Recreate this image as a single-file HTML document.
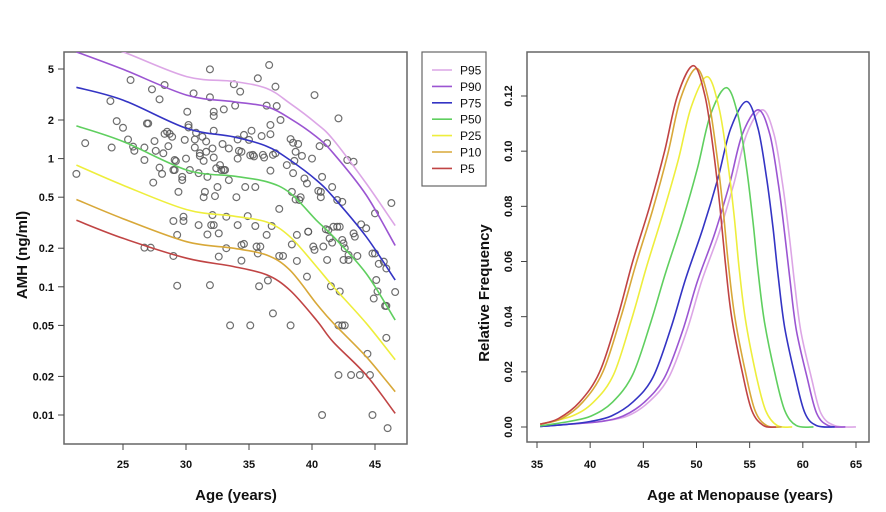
<!DOCTYPE html>
<html><head><meta charset="utf-8">
<style>
html,body{margin:0;padding:0;background:#fff;}
svg{display:block;font-family:"Liberation Sans",Arial,sans-serif;}
.tk{font-size:11px;font-weight:bold;fill:#111;}
.ttl{font-size:15px;font-weight:bold;fill:#111;}
</style></head>
<body>
<svg id="chart" width="886" height="512" viewBox="0 0 886 512">
<defs><clipPath id="clipL"><rect x="64" y="52" width="343" height="392"/></clipPath>
<clipPath id="clipR"><rect x="527" y="52" width="342" height="390"/></clipPath></defs>
<g id="left"></g>
<g id="right"></g>
</svg>
<script>
// ---------- Left panel data ----------
const pctNames = ["P95","P90","P75","P50","P25","P10","P5"];
const pctColors = ["#dca6e6","#9b55d2","#3434c4","#5fcf5f","#eeee3c","#d8a838","#c04444"];
const curveAges = [21.3,25,30.05,33.75,36.4,38.25,40.35,41.7,44.3,46.6];
const amhP95 = [9.0,6.8,4.36,4.0,3.53,2.70,1.88,1.40,0.64,0.30];
const amhP90 = [6.8,4.97,3.13,2.78,2.54,2.06,1.48,1.10,0.52,0.21];
const amhP75 = [3.6,2.86,1.72,1.48,1.25,0.975,0.68,0.50,0.246,0.113];
const amhP50 = [1.80,1.36,0.815,0.73,0.66,0.54,0.33,0.246,0.127,0.055];
const amhP25 = [0.89,0.62,0.40,0.356,0.32,0.246,0.144,0.10,0.052,0.027];
const amhP10 = [0.48,0.34,0.225,0.20,0.177,0.135,0.074,0.052,0.0285,0.0152];
const amhP5 = [0.33,0.239,0.167,0.144,0.124,0.094,0.055,0.037,0.0205,0.0103];
const pointAges = [21.3,22.0,24.0,24.1,24.5,25.0,25.4,25.6,25.8,25.9,26.7,26.7,26.7,26.9,27.0,27.2,27.3,27.4,27.5,27.6,27.9,27.9,28.1,28.2,28.3,28.3,28.5,28.6,28.7,28.9,29.0,29.0,29.0,29.1,29.1,29.2,29.3,29.3,29.4,29.7,29.7,29.8,29.8,29.9,30.0,30.1,30.2,30.2,30.3,30.6,30.7,30.7,30.8,31.0,31.0,31.1,31.1,31.3,31.4,31.4,31.5,31.6,31.6,31.7,31.7,31.9,31.9,31.9,32.0,32.1,32.1,32.2,32.2,32.2,32.2,32.2,32.3,32.4,32.5,32.6,32.6,32.7,32.8,32.9,33.0,33.0,33.1,33.2,33.2,33.4,33.4,33.8,33.9,34.0,34.1,34.1,34.1,34.2,34.3,34.4,34.4,34.4,34.6,34.6,34.7,34.9,35.0,35.1,35.1,35.2,35.3,35.4,35.5,35.5,35.6,35.7,35.7,35.8,35.9,36.0,36.1,36.2,36.4,36.4,36.5,36.6,36.7,36.7,36.7,36.8,36.9,36.9,37.1,37.1,37.2,37.4,37.4,37.5,37.7,38.0,38.3,38.3,38.4,38.4,38.5,38.5,38.6,38.7,38.7,38.8,38.8,38.9,39.0,39.1,39.2,39.4,39.6,39.6,39.7,39.7,40.0,40.1,40.2,40.2,40.5,40.6,40.7,40.7,40.8,40.8,40.9,41.1,41.2,41.2,41.3,41.4,41.5,41.6,41.6,41.7,42.0,42.0,42.1,42.1,42.1,42.2,42.2,42.4,42.4,42.5,42.5,42.6,42.8,42.9,42.9,43.1,43.3,43.3,43.4,43.6,43.8,43.9,44.3,44.4,44.6,44.8,44.8,44.9,45.0,45.0,45.1,45.2,45.3,45.7,45.8,45.9,45.9,45.9,46.0,46.3,46.6,33.5,42.4,42.6];
const pointAmh = [0.76,1.32,2.81,1.22,1.96,1.74,1.41,4.10,1.24,1.15,1.22,0.975,0.202,1.88,1.88,0.202,3.47,0.65,1.37,1.15,0.85,2.90,0.76,1.10,1.56,3.75,1.62,1.25,1.56,1.48,0.815,0.326,0.174,0.975,0.815,0.957,0.102,0.254,0.55,0.72,0.68,0.352,0.326,1.40,1.0,2.32,1.83,1.75,0.815,3.23,1.22,1.41,1.59,0.303,0.77,1.10,1.05,1.48,0.50,0.96,0.55,1.36,1.13,0.72,0.256,4.97,0.103,3.01,0.303,1.20,0.363,0.303,2.32,2.15,1.65,1.02,0.51,0.84,0.60,0.172,0.261,0.89,0.815,1.30,0.815,2.42,0.815,0.20,0.352,0.68,1.20,3.80,2.59,0.50,1.41,0.303,1.0,1.15,3.33,0.160,1.13,0.212,1.53,0.216,0.60,0.356,1.40,0.050,1.06,1.65,1.07,1.04,0.60,0.298,0.206,4.23,0.182,0.101,0.206,1.50,1.07,1.02,2.59,0.254,0.112,5.37,1.55,0.805,1.83,0.298,1.07,0.062,1.10,3.64,2.57,0.405,0.174,2.0,0.174,0.89,1.42,0.050,0.214,0.55,1.33,0.77,0.96,1.13,0.48,0.159,0.254,1.30,0.475,0.50,1.05,0.70,0.12,0.64,0.269,0.269,1.0,0.206,3.13,0.194,0.56,1.25,0.55,0.50,0.010,0.72,0.206,0.281,1.32,0.162,0.277,0.239,0.101,0.60,0.221,0.294,0.294,0.475,2.06,0.0205,0.050,0.294,0.092,0.232,0.46,0.218,0.162,0.20,0.975,0.177,0.162,0.0205,0.946,0.261,0.246,0.174,0.0205,0.307,0.286,0.030,0.0205,0.182,0.010,0.081,0.182,0.374,0.113,0.092,0.151,0.157,0.071,0.071,0.139,0.040,0.0079,0.45,0.091,0.050,0.050,0.050];
const leftXTicks = [25,30,35,40,45];
const leftYTicks = [5,2,1,0.5,0.2,0.1,0.05,0.02,0.01];
const leftYTickLabels = ["5","2","1","0.5","0.2","0.1","0.05","0.02","0.01"];

// ---------- Right panel data ----------
const ageP95 = [35.3,38.0,41.0,43.5,45.5,47.4,49.1,50.5,52.1,53.5,54.7,56.2,57.3,58.1,58.7,59.2,59.8,60.8,61.7,63.0,65.0];
const freqP95 = [0.0002,0.001,0.002,0.004,0.009,0.018,0.035,0.053,0.07,0.088,0.106,0.115,0.106,0.088,0.07,0.053,0.035,0.018,0.005,0.0005,0];
const ageP90 = [35.3,38.0,41.0,43.1,45.1,47.0,48.7,50.1,51.7,53.1,54.3,55.8,56.9,57.7,58.3,58.8,59.4,60.4,61.3,62.4,64.0];
const freqP90 = [0.0002,0.001,0.002,0.004,0.009,0.018,0.035,0.053,0.07,0.088,0.106,0.115,0.106,0.088,0.07,0.053,0.035,0.018,0.005,0.0005,0];
const ageP75 = [35.3,38.0,40.0,42.0,44.0,45.9,47.6,49.0,50.6,52.0,53.2,54.7,55.8,56.6,57.2,57.7,58.3,59.3,60.2,61.3,63.0];
const freqP75 = [0.0002,0.001,0.002,0.004,0.009,0.018,0.036,0.054,0.072,0.09,0.108,0.118,0.108,0.09,0.072,0.054,0.036,0.018,0.005,0.0005,0];
const ageP50 = [35.3,38.0,40.1,42.1,44.0,45.7,47.1,48.7,50.1,51.3,52.8,53.9,54.7,55.3,55.8,56.4,57.4,58.3,59.4,61.0];
const freqP50 = [0.0004,0.002,0.004,0.009,0.019,0.038,0.056,0.075,0.094,0.113,0.123,0.113,0.094,0.075,0.056,0.038,0.019,0.006,0.0005,0];
const ageP25 = [35.3,38.3,40.3,42.2,43.9,45.3,46.9,48.3,49.5,51.0,52.1,52.9,53.5,54.0,54.6,55.6,56.5,57.6,59.0];
const freqP25 = [0.001,0.004,0.009,0.019,0.039,0.058,0.078,0.097,0.116,0.127,0.116,0.097,0.078,0.058,0.039,0.019,0.006,0.0005,0];
const ageP10 = [35.3,37.3,39.3,41.2,42.9,44.3,45.9,47.3,48.5,50.0,51.1,51.9,52.5,53.0,53.6,54.6,55.5,56.6,58.0];
const freqP10 = [0.001,0.003,0.009,0.02,0.04,0.059,0.079,0.099,0.119,0.130,0.119,0.099,0.079,0.059,0.04,0.02,0.006,0.0005,0];
const ageP5 = [35.3,37.0,39.0,40.9,42.6,44.0,45.6,47.0,48.2,49.7,50.8,51.6,52.2,52.7,53.3,54.3,55.2,56.3,57.5];
const freqP5 = [0.001,0.003,0.009,0.02,0.04,0.06,0.08,0.10,0.12,0.131,0.12,0.10,0.08,0.06,0.04,0.02,0.006,0.0005,0];
const rightXTicks = [35,40,45,50,55,60,65];
const rightYTicks = [0,0.02,0.04,0.06,0.08,0.10,0.12];
const rightYTickLabels = ["0.00","0.02","0.04","0.06","0.08","0.10","0.12"];

const NS = "http://www.w3.org/2000/svg";
function mk(parent, tag, attrs, text){
  const e = document.createElementNS(NS, tag);
  for (const k in attrs) e.setAttribute(k, attrs[k]);
  if (text !== undefined) e.textContent = text;
  parent.appendChild(e); return e;
}
function smooth(pts){
  let d = "M" + pts[0][0].toFixed(1) + "," + pts[0][1].toFixed(1);
  for (let i=0;i<pts.length-1;i++){
    const p0=pts[Math.max(0,i-1)], p1=pts[i], p2=pts[i+1], p3=pts[Math.min(pts.length-1,i+2)];
    const c1x=p1[0]+(p2[0]-p0[0])/6, c1y=p1[1]+(p2[1]-p0[1])/6;
    const c2x=p2[0]-(p3[0]-p1[0])/6, c2y=p2[1]-(p3[1]-p1[1])/6;
    d += " C"+c1x.toFixed(1)+","+c1y.toFixed(1)+" "+c2x.toFixed(1)+","+c2y.toFixed(1)+" "+p2[0].toFixed(1)+","+p2[1].toFixed(1);
  }
  return d;
}

// ---------- Left panel ----------
const L = document.getElementById("left");
const xL = a => 123 + (a - 25) * 12.6;
const yL = v => 415 - (Math.log10(v) + 2) * 128.2;
const frameL = mk(L, "rect", {x:64,y:52,width:343,height:392,fill:"none",stroke:"#666","stroke-width":1.5});


leftXTicks.forEach(t => {
  const g = mk(L, "g", {});
  
  
  mk(g, "line", {x1:xL(t),x2:xL(t),y1:444,y2:450,stroke:"#444"});
  mk(g, "text", {x:xL(t),y:468,"text-anchor":"middle",class:"tk"}, String(t));
});
leftYTicks.forEach((t,i) => {
  const g = mk(L, "g", {});
  
  
  mk(g, "line", {x1:58,x2:64,y1:yL(t),y2:yL(t),stroke:"#444"});
  mk(g, "text", {x:54,y:yL(t)+4,"text-anchor":"end",class:"tk"}, leftYTickLabels[i]);
});
const pts = mk(L, "g", {"clip-path":"url(#clipL)"});


pointAges.forEach((a,i) => {
  const c = mk(pts, "circle", {cx:xL(a),cy:yL(pointAmh[i]),r:3.4,fill:"none",stroke:"#555","stroke-width":1.2,"stroke-opacity":0.85});
  
  
});
const amhSeries = [amhP95,amhP90,amhP75,amhP50,amhP25,amhP10,amhP5];
const lc = mk(L, "g", {"clip-path":"url(#clipL)"});
amhSeries.forEach((s,k) => {
  const p = mk(lc, "path", {d:smooth(curveAges.map((a,i)=>[xL(a),yL(s[i])])),fill:"none",stroke:pctColors[k],"stroke-width":1.6});
  
  
});
const yt = mk(L, "text", {x:0,y:0,transform:"translate(27,255) rotate(-90)","text-anchor":"middle",class:"ttl"}, "AMH (ng/ml)");


const xt = mk(L, "text", {x:236,y:500,"text-anchor":"middle",class:"ttl"}, "Age (years)");



// ---------- Right panel ----------
const R = document.getElementById("right");
const xR = a => 537 + (a - 35) * 10.633;
const yR = v => 427 - v * (331 / 0.12);
const frameR = mk(R, "rect", {x:527,y:52,width:342,height:390,fill:"none",stroke:"#666","stroke-width":1.5});


rightXTicks.forEach(t => {
  const g = mk(R, "g", {});
  
  
  mk(g, "line", {x1:xR(t),x2:xR(t),y1:442,y2:448,stroke:"#444"});
  mk(g, "text", {x:xR(t),y:468,"text-anchor":"middle",class:"tk"}, String(t));
});
rightYTicks.forEach((t,i) => {
  const g = mk(R, "g", {});
  
  
  mk(g, "line", {x1:521,x2:527,y1:yR(t),y2:yR(t),stroke:"#444"});
  mk(g, "text", {x:0,y:0,transform:"translate(512,"+yR(t)+") rotate(-90)","text-anchor":"middle",class:"tk"}, rightYTickLabels[i]);
});
const ageSeries = [ageP95,ageP90,ageP75,ageP50,ageP25,ageP10,ageP5];
const freqSeries = [freqP95,freqP90,freqP75,freqP50,freqP25,freqP10,freqP5];
const rc = mk(R, "g", {"clip-path":"url(#clipR)"});
ageSeries.forEach((ag,k) => {
  const p = mk(rc, "path", {d:smooth(ag.map((a,i)=>[xR(a),yR(freqSeries[k][i])])),fill:"none",stroke:pctColors[k],"stroke-width":1.6});
  
  
});
const ryt = mk(R, "text", {x:0,y:0,transform:"translate(489,293) rotate(-90)","text-anchor":"middle",class:"ttl"}, "Relative Frequency");


const rxt = mk(R, "text", {x:740,y:500,"text-anchor":"middle",class:"ttl"}, "Age at Menopause (years)");



// legend
const lg = mk(R, "g", {});


mk(lg, "rect", {x:422,y:52,width:64,height:134,fill:"#fff",stroke:"#666","stroke-width":1.2});
pctNames.forEach((n,k) => {
  const y = 70 + k * 16.4;
  const e = mk(lg, "g", {});
  
  
  mk(e, "line", {x1:432,x2:452,y1:y,y2:y,stroke:pctColors[k],"stroke-width":1.6});
  mk(e, "text", {x:460,y:y+4.5,style:"font-size:12px;fill:#111"}, n);
});
</script>
</body></html>
